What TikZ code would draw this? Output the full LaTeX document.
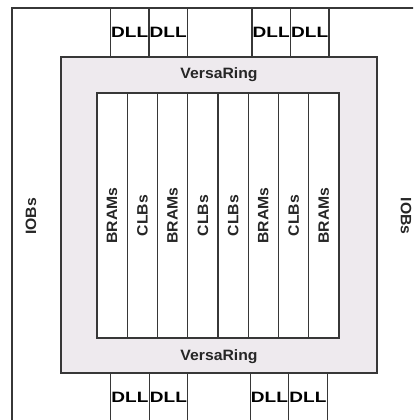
\documentclass[tikz,border=0pt]{standalone}
\usepackage{fontspec}
\setmainfont{Liberation Sans}
\newfontfamily\blockfont{Liberation Sans}[FakeStretch=1.05]
\newfontfamily\dllfont{Liberation Sans}[FakeStretch=1.27]
\usepackage{tikz}
\usetikzlibrary{positioning}

\definecolor{ringfill}{RGB}{238,234,238}
\definecolor{edgegray}{RGB}{55,55,55}

\begin{document}
\begin{tikzpicture}[
    x=1pt, y=-1pt,
    every node/.style={inner sep=0pt, outer sep=0pt},
    iob/.style={rectangle, draw=edgegray, line width=1.3pt, minimum width=414pt, minimum height=414pt},
    ring/.style={rectangle, draw=edgegray, fill=ringfill, line width=1.3pt, minimum width=316pt, minimum height=316pt},
    column/.style={rectangle, draw=edgegray, fill=white, line width=1.2pt, minimum width=30.25pt, minimum height=245pt},
    dll/.style={rectangle, draw=edgegray, fill=white, line width=1.1pt, minimum width=38.5pt, minimum height=49pt, font=\dllfont\bfseries\fontsize{15}{17}\selectfont},
    lbl/.style={font=\blockfont\bfseries\fontsize{15}{17}\selectfont, text=black!85},
    vlbl/.style={lbl, rotate=90}
  ]
    \useasboundingbox (0,0) rectangle (413,420);
    \clip (0,0) rectangle (413,420);

    % IOB ring, cut by the page on the right and below
    \node[iob] (iobs) at (219,215) {};
    \node[vlbl] (iobleft) at (31,216.5) {IOBs};
    \node[lbl, rotate=-90] (iobright) at (406,216) {IOBs};

    % top DLLs
    \node[dll] (dlltl) at (129.75,32.5) {DLL};
    \node[dll, right=0pt of dlltl] (dlltm) {DLL};
    \node[dll] (dlltn) at (271.25,32.5) {DLL};
    \node[dll, right=0pt of dlltn] (dlltr) {DLL};

    % bottom DLLs
    \node[dll] (dllbl) at (130,397.5) {DLL};
    \node[dll, right=0pt of dllbl] (dllbm) {DLL};
    \node[dll] (dllbn) at (269.5,397.5) {DLL};
    \node[dll, right=0pt of dllbn] (dllbr) {DLL};

    % VersaRing
    \node[ring] (ring) at (219,215) {};
    \node[lbl] (ringtop) at (219,75) {VersaRing};
    \node[lbl] (ringbot) at (219,356.5) {VersaRing};

    % BRAM and CLB columns
    \node[column] (c1) at (112.125,215.5) {};
    \node[column, right=0pt of c1] (c2) {};
    \node[column, right=0pt of c2] (c3) {};
    \node[column, right=0pt of c3] (c4) {};
    \node[column, right=0pt of c4] (c5) {};
    \node[column, right=0pt of c5] (c6) {};
    \node[column, right=0pt of c6] (c7) {};
    \node[column, right=0pt of c7] (c8) {};

    \node[vlbl] at (c1) {BRAMs};
    \node[vlbl] at (c2) {CLBs};
    \node[vlbl] at (c3) {BRAMs};
    \node[vlbl] at (c4) {CLBs};
    \node[vlbl] at (c5) {CLBs};
    \node[vlbl] at (c6) {BRAMs};
    \node[vlbl] at (c7) {CLBs};
    \node[vlbl] at (c8) {BRAMs};

  \end{tikzpicture}
\end{document}
